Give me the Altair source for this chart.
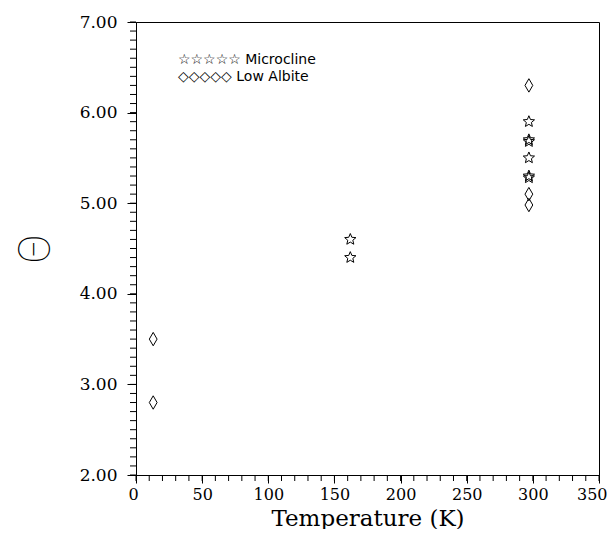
import altair as alt
import numpy as np
import pandas as pd

# Data
mic_T = [162, 162, 297, 297, 297, 297, 297, 297]
mic_theta = [4.60, 4.40, 5.90, 5.70, 5.68, 5.50, 5.30, 5.28]
alb_T = [13, 13, 297, 297, 297]
alb_theta = [3.50, 2.80, 6.30, 5.10, 4.98]

x_major = [0, 50, 100, 150, 200, 250, 300, 350]
y_major = [2, 3, 4, 5, 6, 7]
x_minor = [float(v) for v in np.arange(0, 351, 10)]
y_minor = [round(float(v), 2) for v in np.arange(2.0, 7.001, 0.1)]

legend_rows = ["☆☆☆☆☆ Microcline", "◇◇◇◇◇ Low  Albite"]

W, H = 463, 453

# outlined five-point star and narrow diamond symbol paths (unit coords)
pts = []
for k in range(10):
    ang = np.deg2rad(-90 + 36 * k)
    r = 1.0 if k % 2 == 0 else 0.45
    pts.append(f"{r * np.cos(ang):.3f},{r * np.sin(ang):.3f}")
STAR = "M" + "L".join(pts) + "Z"
DIAMOND = "M0,-1L0.58,0L0,1L-0.58,0Z"

mic = pd.DataFrame({"T": mic_T, "theta": mic_theta})
alb = pd.DataFrame({"T": alb_T, "theta": alb_theta})

xscale = alt.Scale(domain=[0, 350], nice=False, zero=False)
yscale = alt.Scale(domain=[2, 7], nice=False, zero=False)

SERIF = "DejaVu Serif"

x_axis = alt.Axis(values=x_major, format="d", tickSize=8, labelFont=SERIF,
                  labelFontSize=16, labelColor="black", domainColor="black",
                  tickColor="black", grid=False, title="Temperature (K)",
                  titleFont=SERIF, titleFontSize=23, titleFontWeight="normal",
                  titleColor="black", titlePadding=5, labelPadding=3,
                  labelFlush=True, labelFlushOffset=8)
y_axis = alt.Axis(values=y_major, format=".2f", tickSize=9, labelFont=SERIF,
                  labelFontSize=17, labelColor="black", domainColor="black",
                  tickColor="black", grid=False, title="Θ",
                  titleFont="Roboto", titleFontSize=44, titleFontWeight=100,
                  titleColor="black", titlePadding=21, labelPadding=10)

stars = alt.Chart(mic).mark_point(shape=STAR, filled=False, color="black",
                                  strokeWidth=1, size=140, opacity=1).encode(
    x=alt.X("T:Q", scale=xscale, axis=x_axis),
    y=alt.Y("theta:Q", scale=yscale, axis=y_axis),
)

diamonds = alt.Chart(alb).mark_point(shape=DIAMOND, filled=False,
                                     color="black", strokeWidth=1, size=180, opacity=1).encode(
    x=alt.X("T:Q"),
    y=alt.Y("theta:Q"),
)

xm = pd.DataFrame({"T": x_minor})
ym = pd.DataFrame({"theta": y_minor})
x_minor_ticks = alt.Chart(xm).mark_rule(color="black", strokeWidth=1).encode(
    x=alt.X("T:Q"), y=alt.value(H), y2=alt.value(H + 6))
y_minor_ticks = alt.Chart(ym).mark_rule(color="black", strokeWidth=1).encode(
    y=alt.Y("theta:Q"), x=alt.value(-6), x2=alt.value(0))

leg1 = pd.DataFrame({"label": legend_rows[:1]})
leg2 = pd.DataFrame({"label": legend_rows[1:]})
legend1 = alt.Chart(leg1).mark_text(align="left", baseline="middle",
                                    font="DejaVu Sans", fontSize=14, color="black").encode(
    x=alt.value(42), y=alt.value(38), text="label:N")
legend2 = alt.Chart(leg2).mark_text(align="left", baseline="middle",
                                    font="DejaVu Sans", fontSize=14, color="black").encode(
    x=alt.value(42), y=alt.value(55), text="label:N")

chart = alt.layer(stars, diamonds, x_minor_ticks, y_minor_ticks, legend1, legend2).properties(
    width=W, height=H,
    autosize=alt.AutoSizeParams(type="none"),
    padding={"left": 128, "top": 14, "right": 9, "bottom": 54},
    background="white",
).configure_view(stroke="black", strokeWidth=1)

chart.save("out.html", embed_options={"renderer": "svg", "actions": False})
